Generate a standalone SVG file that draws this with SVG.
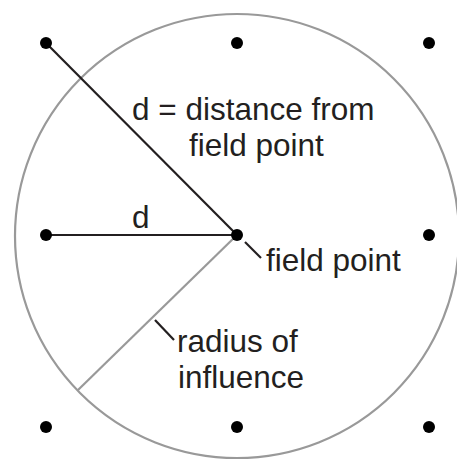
<svg xmlns="http://www.w3.org/2000/svg" width="457" height="460" viewBox="0 0 457 460">
<style>
.t{font-family:"Liberation Sans",Arial,sans-serif;font-size:31.5px;fill:#231f20}
.k{stroke:#231f20;stroke-width:2.2;fill:none}
.g{stroke:#999;stroke-width:2.2;fill:none}
.dot{fill:#000}
</style>
<rect width="457" height="460" fill="#fff"/>
<g id="influence-circle"><circle class="g" cx="237" cy="236" r="222"/></g>
<g id="connectors">
<line class="k" x1="46" y1="43" x2="237" y2="235"/>
<line class="k" x1="46" y1="235" x2="237" y2="235"/>
<line class="g" x1="237" y1="235" x2="78" y2="390"/>
<line class="k" x1="245" y1="242" x2="261" y2="258"/>
<line class="k" x1="155" y1="320" x2="174" y2="340"/>
</g>
<g id="grid-points">
<circle class="dot" cx="46" cy="43" r="6"/>
<circle class="dot" cx="237" cy="43" r="6"/>
<circle class="dot" cx="429" cy="43" r="6"/>
<circle class="dot" cx="46" cy="235" r="6"/>
<circle class="dot" cx="429" cy="235" r="6"/>
<circle class="dot" cx="46" cy="427" r="6"/>
<circle class="dot" cx="237" cy="427" r="6"/>
<circle class="dot" cx="429" cy="427" r="6"/>
</g>
<g id="field-point">
<circle class="dot" cx="237" cy="235" r="6"/>
<text class="t" x="266" y="271">field point</text>
</g>
<g id="distance-label">
<text class="t" x="132" y="120">d = distance from</text>
<text class="t" x="189" y="156">field point</text>
</g>
<g id="d-label"><text class="t" x="132" y="228">d</text></g>
<g id="radius-label">
<text class="t" x="177" y="352">radius of</text>
<text class="t" x="178" y="388">influence</text>
</g>
</svg>
